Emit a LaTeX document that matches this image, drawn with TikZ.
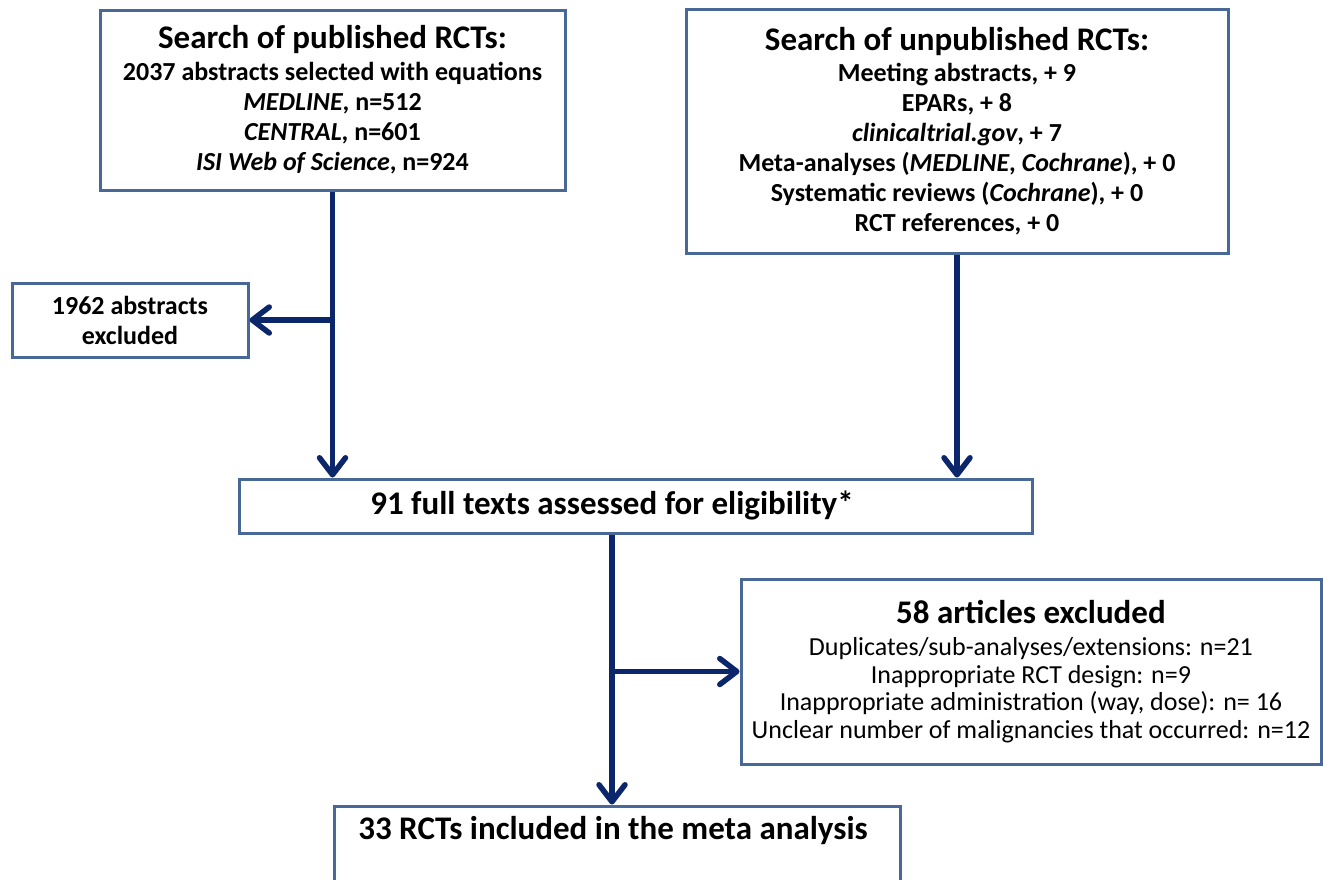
\documentclass[tikz,border=0pt]{standalone}
\usepackage{fontspec}
\setmainfont{Carlito}
\usetikzlibrary{arrows.meta}
\definecolor{boxblue}{RGB}{72,104,152}
\definecolor{arrnavy}{RGB}{12,38,108}
\tikzset{
 box/.style={draw=boxblue, line width=3pt, fill=white, inner sep=0pt, rectangle},
 txt/.style={align=center, inner sep=0pt, text=black},
 arr/.style={draw=arrnavy, line width=5.5pt, -{Straight Barb[length=17pt,width=26pt,round]}},
}
\newcommand{\ttl}[1]{{\fontsize{33}{33}\selectfont\bfseries #1}}
\begin{document}
\begin{tikzpicture}[x=1pt,y=-1pt]
\useasboundingbox (0,0) rectangle (1323,879);
% boxes
\node[box, minimum width=465pt, minimum height=180pt] (b1) at (332.5,100) {};
\node[box, minimum width=542pt, minimum height=244pt] (b2) at (957,131) {};
\node[box, minimum width=236pt, minimum height=74pt] (ex1) at (130,320) {};
\node[box, minimum width=793pt, minimum height=54pt] (b91) at (635.5,506) {};
\node[box, minimum width=580pt, minimum height=185pt] (b58) at (1031,671.5) {};
\node[box, minimum width=566pt, minimum height=94pt] (b33) at (617,853) {};
% texts
\node[txt, font=\fontsize{26}{30}\selectfont\bfseries] (t1) at (b1.center)
 {\ttl{Search of published RCTs:}\\[2pt]
  2037 abstracts selected with equations\\
  \textit{MEDLINE}, n=512\\
  \textit{CENTRAL}, n=601\\
  \textit{ISI Web of Science}, n=924};
\node[txt, font=\fontsize{26}{30}\selectfont\bfseries] (t2) at (b2.center)
 {\ttl{Search of unpublished RCTs:}\\[1pt]
  Meeting abstracts, + 9\\
  EPARs, + 8\\
  \textit{clinicaltrial.gov}, + 7\\
  Meta-analyses (\textit{MEDLINE}, \textit{Cochrane}), + 0\\
  Systematic reviews (\textit{Cochrane}), + 0\\
  RCT references, + 0};
\node[txt, font=\fontsize{26}{30}\selectfont\bfseries] (tex1) at (ex1.center)
 {1962 abstracts\\excluded};
\node[txt] (t91) at (612,505) {\ttl{91 full texts assessed for eligibility*}};
\node[txt, font=\fontsize{26}{27.5}\selectfont] (t58) at (b58.center)
 {\ttl{58 articles excluded}\\[5pt]
  Duplicates/sub-analyses/extensions: n=21\\
  Inappropriate RCT design: n=9\\
  Inappropriate administration (way, dose): n= 16\\
  Unclear number of malignancies that occurred: n=12};
\node[txt] (t33) at (613,831) {\ttl{33 RCTs included in the meta analysis}};
% connectors
\coordinate (s91) at (t91 |- b91.south);
\draw[arr] (b1.south) -- (b1.south |- b91.north);
\draw[arr] (b1.south |- ex1.east) -- (ex1.east);
\draw[arr] (b2.south) -- (b2.south |- b91.north);
\draw[arr] (s91) -- (s91 |- b33.north);
\draw[arr] (s91 |- b58.west) -- (b58.west);
\end{tikzpicture}
\end{document}
